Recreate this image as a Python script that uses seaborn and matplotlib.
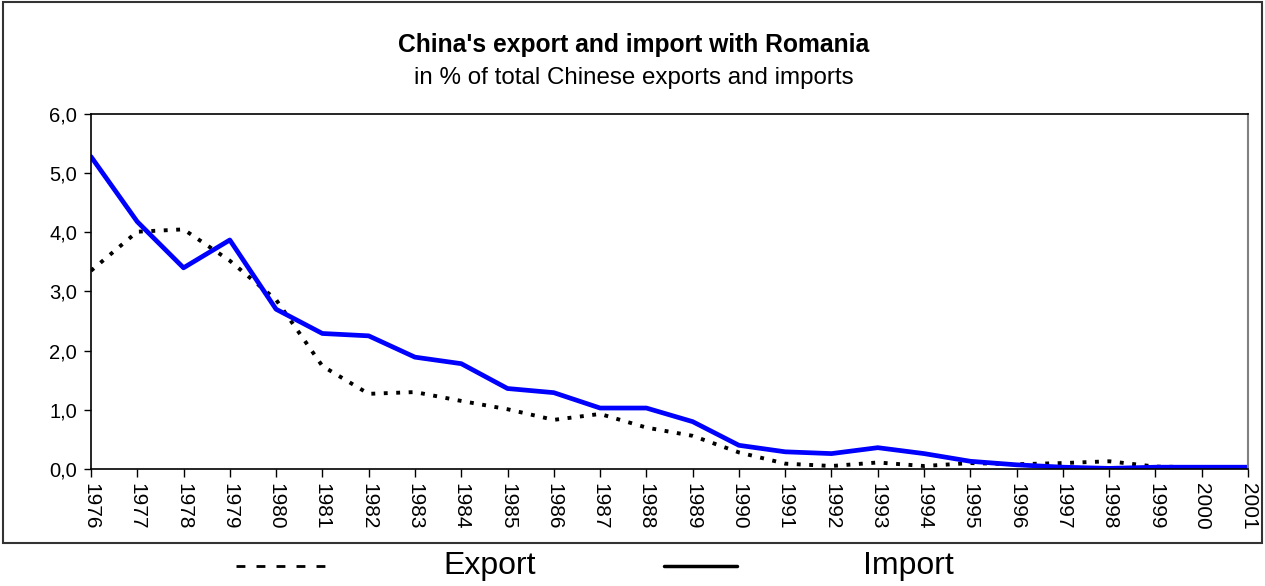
import seaborn as sns
import matplotlib
matplotlib.use("Agg")
import matplotlib.pyplot as plt
from matplotlib.lines import Line2D
from matplotlib.patches import Rectangle
from matplotlib.ticker import FuncFormatter
import pandas as pd

sns.set_style("white")
plt.rcParams['font.family'] = ['Liberation Sans', 'DejaVu Sans']
plt.rcParams['text.color'] = 'black'
plt.rcParams['xtick.color'] = 'black'
plt.rcParams['ytick.color'] = 'black'

# Dados (% do total chinês)
years = list(range(1976, 2002))
export = [3.35, 4.01, 4.05, 3.52, 2.86, 1.74, 1.27, 1.30, 1.15, 1.01,
          0.83, 0.93, 0.70, 0.56, 0.28, 0.09, 0.05, 0.11, 0.05, 0.10,
          0.08, 0.10, 0.13, 0.04, 0.03, 0.03]
imports = [5.28, 4.18, 3.40, 3.87, 2.70, 2.29, 2.25, 1.89, 1.78, 1.36,
           1.29, 1.03, 1.03, 0.80, 0.40, 0.29, 0.26, 0.36, 0.26, 0.13,
           0.07, 0.03, 0.01, 0.03, 0.03, 0.03]

df = pd.DataFrame({"Ano": years, "Export": export, "Import": imports})

fig = plt.figure(figsize=(12.65, 5.86), dpi=100)
ax = fig.add_axes([0.0719, 0.1997, 0.9147, 0.6058])

sns.lineplot(data=df, x="Ano", y="Export", ax=ax, color="black",
             linewidth=2.8, dashes=False)
ax.lines[-1].set_dashes((1.0, 2.2))
sns.lineplot(data=df, x="Ano", y="Import", ax=ax, color="#0000ff",
             linewidth=3.4)

ax.set_xlim(1976, 2001)
ax.set_ylim(0, 6)
ax.set_xticks(years)
ax.set_xticklabels([str(y) for y in years], rotation=-90, fontsize=15)
ax.set_yticks([0, 1, 2, 3, 4, 5, 6])
ax.yaxis.set_major_formatter(FuncFormatter(lambda v, p: f"{v:.1f}".replace(".", ",")))
ax.tick_params(axis="y", labelsize=14.5, length=5, width=1, color="black", pad=5, left=True)
ax.tick_params(axis="x", length=6, width=1, color="black", pad=4, bottom=True)
ax.set_xlabel("")
ax.set_ylabel("")

for s in ["left", "bottom", "top"]:
    ax.spines[s].set_color("black")
    ax.spines[s].set_linewidth(1.2)
ax.spines["right"].set_color("gray")
ax.spines["right"].set_linewidth(1.5)

# Título
fig.text(0.501, 0.923, "China's export and import with Romania", ha="center",
         va="center", fontsize=17.7, fontweight="bold")
fig.text(0.501, 0.867, "in % of total Chinese exports and imports", ha="center",
         va="center", fontsize=17.4)

# Moldura externa
fig.add_artist(Rectangle((0.002, 0.0734), 0.996, 0.924, transform=fig.transFigure,
                         fill=False, edgecolor="#333333", linewidth=1.5))

# Legenda
ly = 1 - 566 / 586
fig.add_artist(Line2D([236 / 1265, 325 / 1265], [ly, ly], transform=fig.transFigure,
                      color="black", linewidth=2, dashes=(3.2, 4.0)))
fig.add_artist(Line2D([664 / 1265, 737 / 1265], [ly, ly], transform=fig.transFigure,
                      color="black", linewidth=2.5))
fig.text(443 / 1265, ly, "Export", ha="left", va="center", fontsize=23)
fig.text(863 / 1265, ly, "Import", ha="left", va="center", fontsize=23)

plt.savefig("out.png", dpi=100)
